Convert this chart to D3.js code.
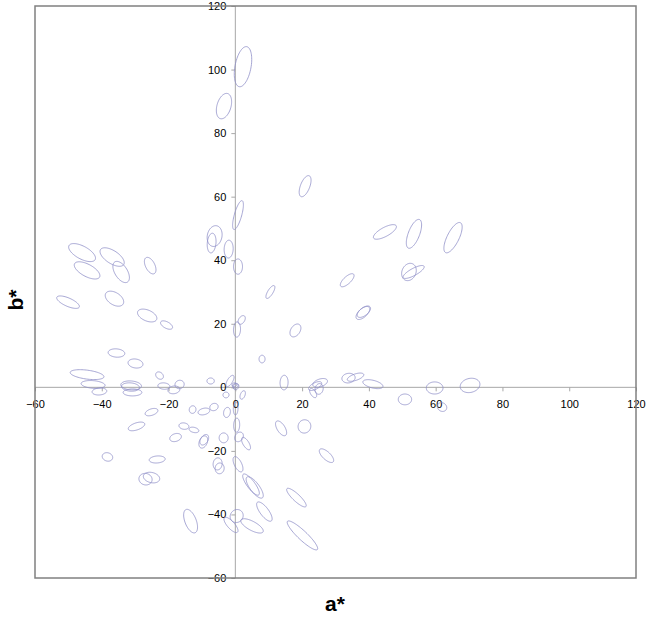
<!DOCTYPE html>
<html><head><meta charset="utf-8">
<script src="https://cdn.jsdelivr.net/npm/d3@7"></script>
<style>body{margin:0;background:#fff}svg{display:block}</style>
</head><body>
<svg id="chart" width="648" height="620"></svg>
<script>
// Ellipse data (a*, b* centres, semi-axes in a*b* units, rotation in degrees)
const ellA = [2.3,-3.4,20.9,0.8,-6.2,-7.1,-2.0,0.8,10.5,33.5,1.9,0.5,18.0,44.8,53.5,65.2,52.0,53.4,38.2,38.5,
  -45.9,-44.4,-36.9,-34.2,-25.5,-50.1,-36.2,-26.4,-20.6,-35.6,-29.9,-44.4,-42.6,-40.7,-31.2,-31.4,-30.8,-22.7,-21.4,-18.4,
  -16.7,-7.4,-25.1,-12.8,-9.4,-6.4,-29.6,-15.4,-12.4,-17.9,-9.6,-9.3,-3.5,-2.8,-1.6,0.0,-0.3,0.2,2.2,-2.5,
  0.1,0.4,1.1,3.2,13.7,14.6,8.0,23.9,25.4,25.1,23.3,33.9,36.0,41.2,50.8,59.7,70.3,61.9,20.7,27.3,
  -38.3,-23.4,-26.9,-25.1,-13.4,-5.3,-4.7,0.8,4.7,5.8,18.3,8.7,0.4,5.0,-1.3,20.1];
const ellB = [100.9,88.5,63.3,54.2,47.6,45.4,43.5,38.0,30.0,33.7,21.2,18.2,17.9,48.9,48.3,47.1,36.3,36.3,23.4,23.8,
  42.4,36.8,41.0,36.3,38.3,26.8,27.9,22.6,19.6,10.8,7.5,4.0,0.9,-1.3,0.6,0.1,-1.6,3.7,0.4,-0.8,
  0.9,2.0,-7.8,-7.0,-7.6,-6.2,-12.3,-12.2,-13.4,-15.8,-17.2,-16.5,-15.9,-2.4,2.0,0.5,0.8,0.2,-2.4,-7.9,
  -6.7,-11.9,-15.6,-17.7,-12.9,1.5,8.9,0.4,1.4,-0.5,-1.8,2.9,3.2,1.0,-3.8,-0.2,0.6,-6.2,-12.3,-21.5,
  -21.9,-22.7,-28.9,-28.4,-42.1,-24.1,-25.5,-24.2,-30.6,-31.5,-34.7,-39.1,-40.5,-43.6,-43.3,-46.6];
const ellMajor = [6.4,4.1,3.5,4.7,3.3,3.1,2.8,2.4,2.3,2.7,1.5,2.4,2.2,3.9,4.8,5.2,2.8,3.6,2.6,2.4,
  4.5,4.3,4.2,3.7,2.8,3.7,3.1,3.1,2.0,2.5,2.25,5.1,3.6,2.2,3.1,2.7,2.8,1.3,1.8,1.8,
  1.4,1.1,2.0,1.2,1.8,1.3,2.6,1.5,1.5,1.8,2.0,1.8,1.55,0.9,2.0,0.9,0.7,1.0,1.4,1.6,
  2.0,2.2,1.6,2.2,2.6,2.3,1.2,2.2,2.3,1.7,1.6,2.0,2.6,3.1,2.0,2.5,3.0,1.5,2.1,2.8,
  1.6,2.4,2.0,2.5,3.9,1.9,1.7,2.6,4.0,4.0,4.0,3.6,2.1,3.8,3.0,6.3];
const ellMinor = [2.4,2.1,1.4,1.1,2.2,1.3,1.35,1.35,0.8,1.1,0.9,1.05,1.4,1.4,1.7,1.8,2.1,1.1,1.3,1.2,
  2.0,1.9,2.0,1.9,1.4,1.3,1.9,1.7,1.0,1.3,1.4,1.4,1.2,1.1,1.4,1.3,1.1,1.0,1.0,1.2,
  1.3,0.95,1.0,1.0,1.0,1.1,1.1,1.0,0.8,1.2,1.2,1.1,1.35,0.9,0.8,0.7,0.6,0.8,0.7,1.0,
  0.7,0.9,1.2,0.9,1.2,1.2,0.9,1.0,1.2,1.2,0.8,1.5,1.0,1.2,1.7,1.9,2.2,1.3,1.9,1.2,
  1.3,1.1,1.8,1.6,1.7,1.35,1.35,1.1,1.2,1.4,1.1,1.3,1.9,1.4,1.1,1.4];
const ellAngle = [80,75,70,75,80,85,88,90,60,45,60,88,60,30,70,65,70,30,45,40,
  -30,-30,-35,-60,-65,-25,-35,-25,-30,-5,-10,-8,-5,5,-5,-5,0,-45,-5,10,
  30,0,20,80,15,30,20,-10,-15,20,70,60,90,0,60,30,0,60,70,80,
  88,88,60,-60,-60,88,90,30,20,80,-60,10,20,-15,0,0,15,-40,80,-45,
  -20,5,-20,-15,-70,85,85,-65,-55,-55,-45,-55,60,-30,-50,-45];

const xTicks = [-60,-40,-20,0,20,40,60,80,100,120];
const yTicks = [-60,-40,-20,0,20,40,60,80,100,120];

const svg = d3.select('#chart');
const pL = 35, pR = 636, pT = 6, pB = 578;
const x = d3.scaleLinear().domain([-60,120]).range([pL,pR]);
const y = d3.scaleLinear().domain([-60,120]).range([pB,pT]);

// axes lines through origin
const axG = svg.append('g');
axG.append('line').attr('x1',pL).attr('x2',pR).attr('y1',y(0)).attr('y2',y(0))
  .attr('stroke','#a8a8a8').attr('stroke-width',1);
axG.append('line').attr('x1',x(0)).attr('x2',x(0)).attr('y1',pT).attr('y2',pB)
  .attr('stroke','#a8a8a8').attr('stroke-width',1);

const xa = svg.append('g').attr('transform',`translate(0,${y(0)})`)
  .call(d3.axisBottom(x).tickValues(xTicks).tickSize(4).tickPadding(9).tickFormat(d3.format('d')));
const ya = svg.append('g').attr('transform',`translate(${x(0)},0)`)
  .call(d3.axisLeft(y).tickValues(yTicks).tickSize(4).tickPadding(5).tickFormat(d3.format('d')));
[xa,ya].forEach(g=>{
  g.select('.domain').remove();
  g.selectAll('line').attr('stroke','#a8a8a8');
  g.selectAll('text').attr('fill','#000').style('font-family','"Liberation Sans", Arial, sans-serif').style('font-size','11px');
});

// ellipses
const line = d3.line().x(d=>x(d[0])).y(d=>y(d[1])).curve(d3.curveLinearClosed);
const N = 72;
const ellipses = ellA.map((a,i)=>{
  const th = ellAngle[i]*Math.PI/180, rx = ellMajor[i], ry = ellMinor[i], b = ellB[i];
  return d3.range(N).map(k=>{
    const t = 2*Math.PI*k/N;
    const u = rx*Math.cos(t), v = ry*Math.sin(t);
    return [a + u*Math.cos(th) - v*Math.sin(th), b + u*Math.sin(th) + v*Math.cos(th)];
  });
});
svg.append('g').selectAll('path').data(ellipses).join('path')
  .attr('d',line).attr('fill','none').attr('stroke','#8f8fc8').attr('stroke-width',0.8);

// frame
svg.append('rect').attr('x',pL).attr('y',pT).attr('width',pR-pL).attr('height',pB-pT)
  .attr('fill','none').attr('stroke','#808080').attr('stroke-width',1.5);

// axis titles
svg.append('text').attr('x',335).attr('y',611).attr('text-anchor','middle')
  .style('font-family','"Liberation Sans", Arial, sans-serif').style('font-size','21px').style('font-weight','bold').text('a*');
svg.append('text').attr('transform','translate(23,300) rotate(-90)').attr('text-anchor','middle')
  .style('font-family','"Liberation Sans", Arial, sans-serif').style('font-size','21px').style('font-weight','bold').text('b*');
</script>
</body></html>
